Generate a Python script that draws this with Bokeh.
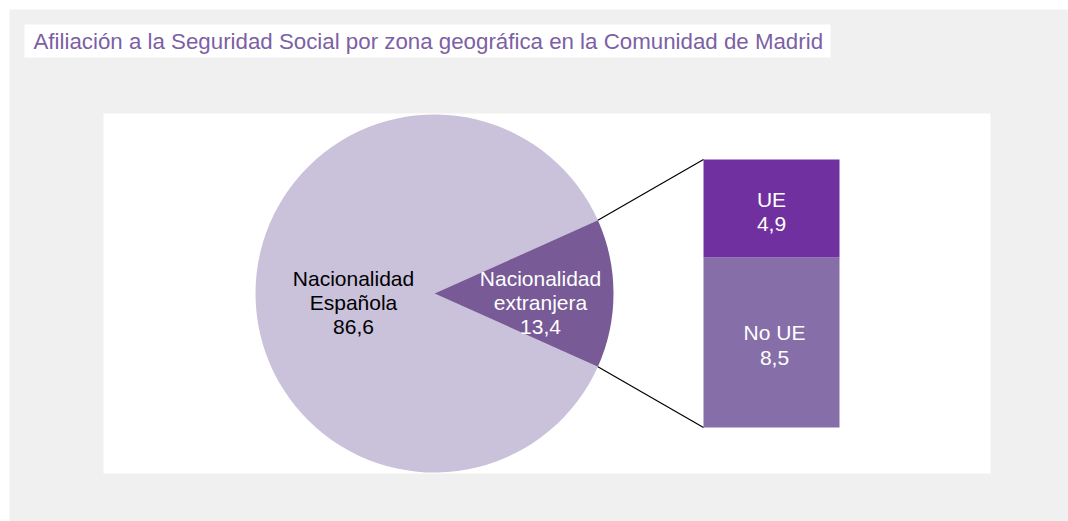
import math
from bokeh.plotting import figure
from bokeh.models import Range1d
from bokeh.core.properties import value
from bokeh.embed import file_html
from bokeh.resources import INLINE

# ---- data ----
title = "Afiliación a la Seguridad Social por zona geográfica en la Comunidad de Madrid"
pie_labels = ["Nacionalidad\nEspañola\n86,6", "Nacionalidad\nextranjera\n13,4"]
pie_values = [86.6, 13.4]
bar_labels = ["No UE\n8,5", "UE\n4,9"]
bar_values = [8.5, 4.9]

# ---- styles ----
FONT = "Liberation Sans"
C_BG = "#F0F0F0"
C_ESP = "#CAC1DB"
C_EXT = "#775A96"
C_BAR = ["#866EA8", "#7030A0"]
C_TITLE = "#7D5FA5"

W, H = 1068, 521
p = figure(width=W, height=H, output_backend="svg", toolbar_location=None,
           x_range=Range1d(0, W), y_range=Range1d(0, H), min_border=0,
           background_fill_color="white", border_fill_color="white", outline_line_color=None)
p.axis.visible = False
p.grid.visible = False

# panels
p.quad(left=[9], right=[1068], bottom=[0], top=[512], fill_color=C_BG, line_color=None)
p.quad(left=[103], right=[990], bottom=[48], top=[408], fill_color="white", line_color=None)
p.quad(left=[24], right=[830], bottom=[464], top=[497], fill_color="white", line_color=None)
p.text(x=[33], y=[480.5], text=[title], text_font=value(FONT), text_font_size="22.3px",
       text_color=C_TITLE, text_align="left", text_baseline="middle")

# pie
cx, cy, r = 434, 228, 179
total = sum(pie_values)
theta = pie_values[1] / total * 2 * math.pi
p.wedge(x=cx, y=cy, radius=r, start_angle=theta / 2, end_angle=2 * math.pi - theta / 2,
        fill_color=C_ESP, line_color=None)
p.wedge(x=cx, y=cy, radius=r, start_angle=-theta / 2, end_angle=theta / 2,
        fill_color=C_EXT, line_color=None)

# bar of pie
bx0, bx1, by0 = 703, 839, 94
scale = 268 / sum(bar_values)
bottoms, tops = [], []
acc = by0
for v in bar_values:
    bottoms.append(acc)
    acc += v * scale
    tops.append(acc)
p.quad(left=[bx0] * 2, right=[bx1] * 2, bottom=bottoms, top=tops, fill_color=C_BAR, line_color=None)

# connector lines
ex = cx + r * math.cos(theta / 2)
ey_top = cy + r * math.sin(theta / 2)
ey_bot = cy - r * math.sin(theta / 2)
p.segment(x0=[ex, ex], y0=[ey_top, ey_bot], x1=[bx0, bx0], y1=[tops[-1], bottoms[0]],
          line_color="black", line_width=1.2)

# labels
p.text(x=[353, 540], y=[219, 219], text=pie_labels, text_font=value(FONT), text_font_size="21px",
       text_color=["black", "white"], text_align="center", text_baseline="middle",
       text_line_height=1.06)
p.text(x=[774, 771], y=[176.5, 310], text=bar_labels,
       text_font=value(FONT), text_font_size="21px", text_color="white",
       text_align="center", text_baseline="middle", text_line_height=1.06)

open("out.html", "w").write(file_html(p, INLINE))
